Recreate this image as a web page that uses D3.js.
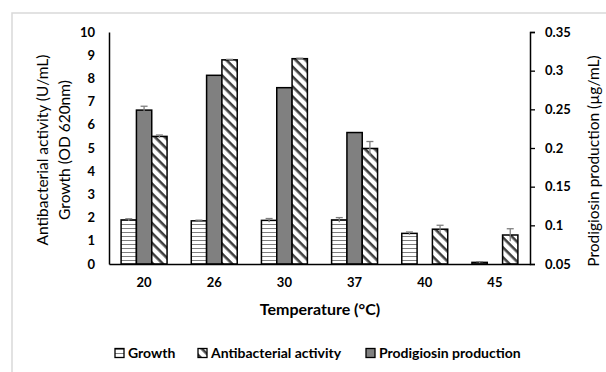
<!DOCTYPE html>
<html>
<head>
<meta charset="utf-8">
<script src="https://cdn.jsdelivr.net/npm/d3@7"></script>
<style>
  body { margin: 0; background: #fff; }
  svg { display: block; font-family: Lato, "Open Sans", sans-serif; }
</style>
</head>
<body>
<svg width="606" height="372"></svg>
<script>
// values
var temps = ["20", "26", "30", "37", "40", "45"];
var growth = [1.9, 1.86, 1.88, 1.9, 1.32, 0.07];
var growthErr = [0.05, 0.03, 0.08, 0.1, 0.06, 0.03];
var antibacterial = [5.5, 8.8, 8.85, 4.98, 1.5, 1.25];
var antiErr = [0.06, 0.02, 0.02, 0.3, 0.17, 0.27];
var prodigiosin = [0.249, 0.294, 0.278, 0.22, 0, 0];
var prodErr = [0.005, 0, 0, 0, 0, 0];
var leftTicks = [0, 1, 2, 3, 4, 5, 6, 7, 8, 9, 10];
var rightTicks = [0.05, 0.1, 0.15, 0.2, 0.25, 0.3, 0.35];

var svg = d3.select("svg");

// plot box (window.top is reserved, so no "top" var)
var pLeft = 109, pRight = 530, pTop = 32, pBottom = 264;

var x = d3.scaleBand().domain(temps).range([pLeft, pRight])
    .paddingInner(0.345).paddingOuter(0.1725);
var sub = d3.scaleBand().domain(["growth", "prod", "anti"]).range([0, x.bandwidth()]);
var yL = d3.scaleLinear().domain([0, 10]).range([pBottom, pTop]);
var yR = d3.scaleLinear().domain([0.05, 0.35]).range([pBottom, pTop]);

// patterns
var defs = svg.append("defs");
var ph = defs.append("pattern").attr("id", "hlines")
    .attr("patternUnits", "userSpaceOnUse").attr("width", 8).attr("height", 4);
ph.append("rect").attr("width", 8).attr("height", 4).attr("fill", "#fff");
ph.append("line").attr("x1", 0).attr("x2", 8).attr("y1", 0.5).attr("y2", 0.5)
  .attr("stroke", "#7f7f7f").attr("stroke-width", 1);

var pd = defs.append("pattern").attr("id", "diag")
    .attr("patternUnits", "userSpaceOnUse").attr("width", 7).attr("height", 7)
    .attr("patternTransform", "rotate(45)");
pd.append("rect").attr("width", 7).attr("height", 7).attr("fill", "#fff");
pd.append("rect").attr("x", 0).attr("y", 0).attr("width", 7).attr("height", 2.6).attr("fill", "#404040");

// chart border (only top/left visible in crop)
svg.append("rect").attr("x", 12).attr("y", 13).attr("width", 700).attr("height", 500)
  .attr("fill", "none").attr("stroke", "#d9d9d9").attr("stroke-width", 1.5);

var rows = temps.map(function(t, i) {
  return [
    {t: t, key: "growth", v: growth[i], e: growthErr[i], s: yL, fill: "url(#hlines)"},
    {t: t, key: "prod", v: prodigiosin[i], e: prodErr[i], s: yR, fill: "#808080"},
    {t: t, key: "anti", v: antibacterial[i], e: antiErr[i], s: yL, fill: "url(#diag)"}
  ];
});
var bars = d3.merge(rows).filter(function(d) { return d.v > d.s.domain()[0]; });

var g = svg.append("g");
g.selectAll("rect.bar").data(bars).enter().append("rect")
  .attr("class", "bar")
  .attr("x", function(d) { return x(d.t) + sub(d.key); })
  .attr("width", sub.bandwidth())
  .attr("y", function(d) { return d.s(d.v); })
  .attr("height", function(d) { return pBottom - d.s(d.v); })
  .attr("fill", function(d) { return d.fill; })
  .attr("stroke", "#000").attr("stroke-width", 1.5);

// error bars
var eb = g.selectAll("g.err").data(bars.filter(function(d) { return d.e > 0; }))
  .enter().append("g").attr("class", "err")
  .attr("stroke", "#7f7f7f").attr("stroke-width", 1.3);
eb.append("line")
  .attr("x1", function(d) { return x(d.t) + sub(d.key) + sub.bandwidth() / 2; })
  .attr("x2", function(d) { return x(d.t) + sub(d.key) + sub.bandwidth() / 2; })
  .attr("y1", function(d) { return d.s(d.v - d.e); })
  .attr("y2", function(d) { return d.s(d.v + d.e); });
eb.append("line")
  .attr("x1", function(d) { return x(d.t) + sub(d.key) + sub.bandwidth() / 2 - 3.5; })
  .attr("x2", function(d) { return x(d.t) + sub(d.key) + sub.bandwidth() / 2 + 3.5; })
  .attr("y1", function(d) { return d.s(d.v + d.e); })
  .attr("y2", function(d) { return d.s(d.v + d.e); });

// axes
var axL = svg.append("g").attr("transform", "translate(" + pLeft + ",0)")
  .call(d3.axisLeft(yL).tickValues(leftTicks).tickSize(0).tickPadding(14));
axL.select(".domain").attr("stroke", "#000").attr("stroke-width", 1.5);

var axR = svg.append("g").attr("transform", "translate(" + pRight + ",0)")
  .call(d3.axisRight(yR).tickValues(rightTicks).tickSize(5).tickPadding(10)
    .tickFormat(function(d) { return d3.format("")(+d.toFixed(2)); }));
axR.select(".domain").attr("stroke", "#000").attr("stroke-width", 1.5);
axR.selectAll(".tick line").attr("stroke", "#000").attr("stroke-width", 1.3);

var axX = svg.append("g").attr("transform", "translate(0," + pBottom + ")")
  .call(d3.axisBottom(x).tickSize(0).tickPadding(14));
axX.select(".domain").attr("stroke", "#000").attr("stroke-width", 1.5);

svg.selectAll(".tick text").attr("font-family", "Lato, sans-serif")
  .attr("font-size", 13).attr("font-weight", "bold").attr("fill", "#000");

// titles
svg.append("text").attr("x", 320).attr("y", 315).attr("text-anchor", "middle")
  .attr("font-size", 16).attr("font-weight", "bold").text("Temperature (°C)");

var lt = svg.append("text").attr("transform", "translate(43,150) rotate(-90)")
  .attr("text-anchor", "middle").attr("font-size", 15.5);
lt.append("tspan").attr("x", 0).attr("dy", "0.35em").text("Antibacterial activity (U/mL)");
lt.append("tspan").attr("x", 0).attr("dy", "1.4em").text("Growth (OD 620nm)");

svg.append("text").attr("transform", "translate(594,161) rotate(-90)")
  .attr("text-anchor", "middle").attr("dy", "0.35em").attr("font-size", 15.5)
  .text("Prodigiosin production (µg/mL)");

// legend
var legend = [
  {label: "Growth", fill: "url(#hlines)", x: 115},
  {label: "Antibacterial activity", fill: "url(#diag)", x: 198},
  {label: "Prodigiosin production", fill: "#808080", x: 366}
];
var lg = svg.selectAll("g.leg").data(legend).enter().append("g")
  .attr("transform", function(d) { return "translate(" + d.x + ",353)"; });
lg.append("rect").attr("x", 0).attr("y", -4.5).attr("width", 9).attr("height", 9)
  .attr("fill", function(d) { return d.fill; }).attr("stroke", "#000").attr("stroke-width", 1.3);
lg.append("text").attr("x", 13).attr("dy", "0.35em").attr("font-size", 14)
  .attr("font-weight", "bold").text(function(d) { return d.label; });
</script>
</body>
</html>
